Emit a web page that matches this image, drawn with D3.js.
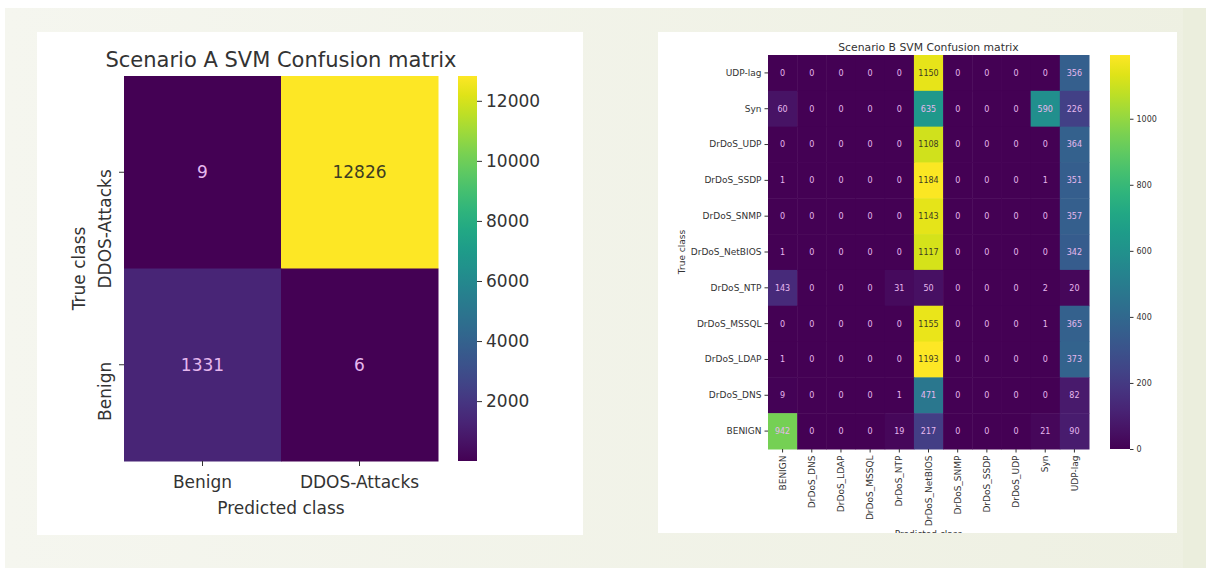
<!DOCTYPE html>
<html>
<head>
<meta charset="utf-8">
<script src="https://cdn.jsdelivr.net/npm/d3@7"></script>
<style>
  body { margin: 0; background: #fff; }
  svg text { font-family: "DejaVu Sans", sans-serif; fill: #333; }
  .axis path { display: none; }
  .axis line { stroke: #333; }
</style>
</head>
<body>
<svg id="chart" width="1206" height="568"></svg>
<script>
// scenario A (2 classes)
const a_cols = ["Benign", "DDOS-Attacks"];
const a_rows = ["DDOS-Attacks", "Benign"];
const a_values = [
    [9, 12826],
    [1331, 6]
];
const a_cbar_ticks = [2000, 4000, 6000, 8000, 10000, 12000];

// scenario B (11 classes)
const b_cols = ["BENIGN", "DrDoS_DNS", "DrDoS_LDAP", "DrDoS_MSSQL", "DrDoS_NTP", "DrDoS_NetBIOS",
    "DrDoS_SNMP", "DrDoS_SSDP", "DrDoS_UDP", "Syn", "UDP-lag"];
const b_rows = ["UDP-lag", "Syn", "DrDoS_UDP", "DrDoS_SSDP", "DrDoS_SNMP", "DrDoS_NetBIOS",
    "DrDoS_NTP", "DrDoS_MSSQL", "DrDoS_LDAP", "DrDoS_DNS", "BENIGN"];
const b_values = [
    [0, 0, 0, 0, 0, 1150, 0, 0, 0, 0, 356],
    [60, 0, 0, 0, 0, 635, 0, 0, 0, 590, 226],
    [0, 0, 0, 0, 0, 1108, 0, 0, 0, 0, 364],
    [1, 0, 0, 0, 0, 1184, 0, 0, 0, 1, 351],
    [0, 0, 0, 0, 0, 1143, 0, 0, 0, 0, 357],
    [1, 0, 0, 0, 0, 1117, 0, 0, 0, 0, 342],
    [143, 0, 0, 0, 31, 50, 0, 0, 0, 2, 20],
    [0, 0, 0, 0, 0, 1155, 0, 0, 0, 1, 365],
    [1, 0, 0, 0, 0, 1193, 0, 0, 0, 0, 373],
    [9, 0, 0, 0, 1, 471, 0, 0, 0, 0, 82],
    [942, 0, 0, 0, 19, 217, 0, 0, 0, 21, 90]
];
const b_cbar_ticks = [0, 200, 400, 600, 800, 1000];

const svg = d3.select("#chart");
const defs = svg.append("defs");

// slide background
const bg = defs.append("linearGradient").attr("id", "bg").attr("x1", 0).attr("x2", 1);
bg.append("stop").attr("offset", 0).attr("stop-color", "#f5f6ef");
bg.append("stop").attr("offset", 1).attr("stop-color", "#eef0e2");
svg.append("rect").attr("x", 5).attr("y", 8).attr("width", 1201).attr("height", 560).attr("fill", "url(#bg)");
svg.append("rect").attr("x", 1183).attr("y", 8).attr("width", 23).attr("height", 560).attr("fill", "#ebeedd");

// viridis gradient for colorbars
const vir = defs.append("linearGradient").attr("id", "vir")
    .attr("x1", 0).attr("x2", 0).attr("y1", 1).attr("y2", 0);
d3.range(0, 1.0001, 0.05).forEach(t => {
    vir.append("stop").attr("offset", t).attr("stop-color", d3.interpolateViridis(t));
});

const draw_matrix = (opt) => {
    const g = svg.append("g");
    const p = opt.panel;

    defs.append("clipPath").attr("id", opt.id + "-clip")
        .append("rect").attr("x", p.x).attr("y", p.y).attr("width", p.w).attr("height", p.h);
    g.attr("clip-path", `url(#${opt.id}-clip)`);
    g.append("rect").attr("x", p.x).attr("y", p.y).attr("width", p.w).attr("height", p.h).attr("fill", "#fff");

    const x = d3.scaleBand().domain(opt.cols).range([opt.left, opt.right]);
    const y = d3.scaleBand().domain(opt.rows).range([opt.top, opt.bottom]);
    const flat = opt.values.flat();
    const color = d3.scaleSequential(d3.interpolateViridis).domain(d3.extent(flat));
    const vmax = d3.max(flat);

    const cells = [];
    opt.values.forEach((row, i) => row.forEach((v, j) => cells.push({ r: opt.rows[i], c: opt.cols[j], v: v })));

    g.selectAll(null).data(cells).enter().append("rect")
        .attr("x", d => x(d.c))
        .attr("y", d => y(d.r))
        .attr("width", x.bandwidth() + 0.5)
        .attr("height", y.bandwidth() + 0.5)
        .attr("fill", d => color(d.v));

    g.selectAll(null).data(cells).enter().append("text")
        .attr("x", d => x(d.c) + x.bandwidth() / 2)
        .attr("y", d => y(d.r) + y.bandwidth() / 2)
        .attr("dy", "0.36em")
        .attr("text-anchor", "middle")
        .style("font-size", opt.annot_size + "px")
        .style("fill", d => d.v / vmax > 0.85 ? "#3d3d22" : "#e6b8ee")
        .text(d => d.v);

    // axes
    const ax_b = g.append("g").attr("class", "axis")
        .attr("transform", `translate(0,${opt.bottom})`)
        .call(d3.axisBottom(x).tickSize(opt.tick).tickPadding(opt.xpad));
    ax_b.selectAll("text").style("font-size", opt.tick_size + "px").style("fill", "#333");
    if (opt.rotate_x) {
        ax_b.selectAll("text")
            .attr("transform", "rotate(-90)")
            .attr("text-anchor", "end")
            .attr("x", -(opt.tick + opt.xpad))
            .attr("y", 0)
            .attr("dy", "0.35em");
    }

    const ax_l = g.append("g").attr("class", "axis")
        .attr("transform", `translate(${opt.left},0)`)
        .call(d3.axisLeft(y).tickSize(opt.tick).tickPadding(opt.ypad));
    ax_l.selectAll("text").style("font-size", opt.tick_size + "px").style("fill", "#333");
    if (opt.rotate_y) {
        ax_l.selectAll("text")
            .attr("transform", "rotate(-90)")
            .attr("text-anchor", "end")
            .attr("x", 3)
            .attr("y", -(opt.tick + opt.ypad))
            .attr("dy", "0");
    }

    // colorbar
    const cb = d3.scaleLinear().domain(d3.extent(flat)).range([opt.bottom, opt.top]);
    g.append("rect")
        .attr("x", opt.cb_x).attr("y", opt.top)
        .attr("width", opt.cb_w).attr("height", opt.bottom - opt.top)
        .attr("fill", "url(#vir)");
    const ax_c = g.append("g").attr("class", "axis")
        .attr("transform", `translate(${opt.cb_x + opt.cb_w},0)`)
        .call(d3.axisRight(cb).tickValues(opt.cb_ticks).tickSize(opt.tick).tickPadding(opt.cpad).tickFormat(d3.format("d")));
    ax_c.selectAll("text").style("font-size", opt.cb_size + "px").style("fill", "#333");

    // titles
    const cx = (opt.left + opt.right) / 2;
    g.append("text")
        .attr("x", cx).attr("y", opt.title_y)
        .attr("text-anchor", "middle")
        .style("font-size", opt.title_size + "px")
        .text(opt.title);
    g.append("text")
        .attr("x", cx).attr("y", opt.xlabel_y)
        .attr("text-anchor", "middle")
        .style("font-size", opt.tick_size + "px")
        .text("Predicted class");
    g.append("text")
        .attr("transform", `translate(${opt.ylabel_x},${(opt.top + opt.bottom) / 2}) rotate(-90)`)
        .attr("text-anchor", "middle")
        .style("font-size", opt.tick_size + "px")
        .text("True class");
};

draw_matrix({
    id: "a",
    panel: { x: 37, y: 32, w: 546, h: 503 },
    cols: a_cols, rows: a_rows, values: a_values,
    left: 124, right: 438, top: 76, bottom: 461,
    cb_x: 458, cb_w: 19, cb_ticks: a_cbar_ticks,
    tick: 5, xpad: 10, ypad: 8.5, cpad: 4,
    tick_size: 17, annot_size: 17, cb_size: 17, title_size: 21,
    rotate_x: false, rotate_y: true,
    title: "Scenario A SVM Confusion matrix", title_y: 67,
    xlabel_y: 514, ylabel_x: 85
});

draw_matrix({
    id: "b",
    panel: { x: 658, y: 32, w: 519, h: 501 },
    cols: b_cols, rows: b_rows, values: b_values,
    left: 768, right: 1089, top: 55, bottom: 449,
    cb_x: 1110, cb_w: 20, cb_ticks: b_cbar_ticks,
    tick: 3.5, xpad: 3, ypad: 3, cpad: 3,
    tick_size: 9, annot_size: 8, cb_size: 8, title_size: 10.8,
    rotate_x: true, rotate_y: false,
    title: "Scenario B SVM Confusion matrix", title_y: 51,
    xlabel_y: 537, ylabel_x: 685
});
</script>
</body>
</html>
